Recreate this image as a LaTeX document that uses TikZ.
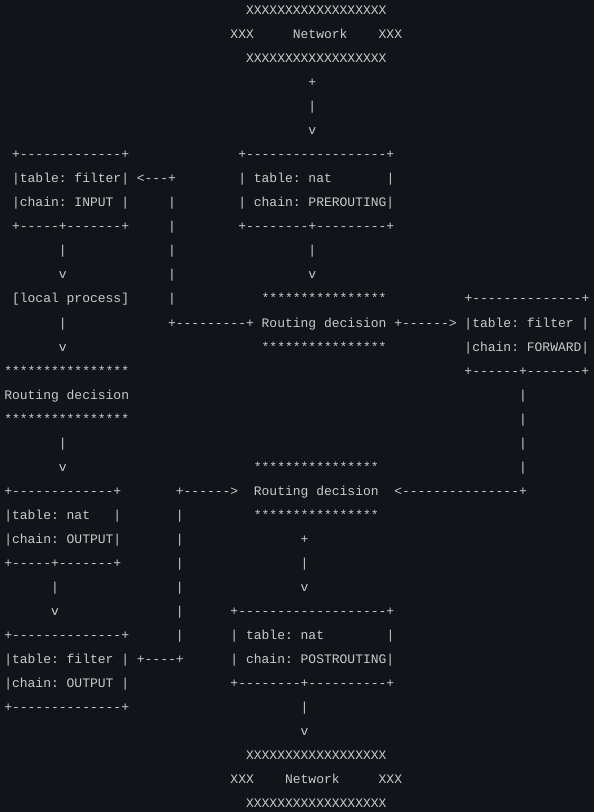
\documentclass[tikz,border=0pt]{standalone}
\usepackage{fontspec}
\setmonofont{Liberation Mono}[Ligatures=NoCommon]
\definecolor{termbg}{HTML}{131419}
\definecolor{termfg}{HTML}{C9CACC}
\newlength{\colw}
\setlength{\colw}{5.85pt}
\newcommand{\blanks}[1]{\hspace*{#1\colw}}

\begin{document}
\begin{tikzpicture}[x=5.85pt, y=-18pt, row/.style={anchor=base west, inner sep=0pt, outer sep=0pt, text=termfg, font=\ttfamily\fontsize{9.75pt}{18pt}\selectfont}]
    \useasboundingbox [fill=termbg] (-3.2pt,11.25pt) rectangle (442.3pt,-597.75pt);
    \node [row] (r1) at (31,0) {XXXXXXXXXXXXXXXXXX};
    \node [row] (r2) at (29,1) {XXX\blanks{5}Network\blanks{4}XXX};
    \node [row] (r3) at (31,2) {XXXXXXXXXXXXXXXXXX};
    \node [row] (r4) at (39,3) {+};
    \node [row] (r5) at (39,4) {|};
    \node [row] (r6) at (39,5) {v};
    \node [row] (r7) at (1,6) {+-------------+\blanks{14}+------------------+};
    \node [row] (r8) at (1,7) {|table: filter| <---+\blanks{8}| table: nat\blanks{7}|};
    \node [row] (r9) at (1,8) {|chain: INPUT |\blanks{5}|\blanks{8}| chain: PREROUTING|};
    \node [row] (r10) at (1,9) {+-----+-------+\blanks{5}|\blanks{8}+--------+---------+};
    \node [row] (r11) at (7,10) {|\blanks{13}|\blanks{17}|};
    \node [row] (r12) at (7,11) {v\blanks{13}|\blanks{17}v};
    \node [row] (r13) at (1,12) {[local process]\blanks{5}|\blanks{11}****************\blanks{10}+--------------+};
    \node [row] (r14) at (7,13) {|\blanks{13}+---------+ Routing decision +------> |table: filter |};
    \node [row] (r15) at (7,14) {v\blanks{25}****************\blanks{10}|chain: FORWARD|};
    \node [row] (r16) at (0,15) {****************\blanks{43}+------+-------+};
    \node [row] (r17) at (0,16) {Routing decision\blanks{50}|};
    \node [row] (r18) at (0,17) {****************\blanks{50}|};
    \node [row] (r19) at (7,18) {|\blanks{58}|};
    \node [row] (r20) at (7,19) {v\blanks{24}****************\blanks{18}|};
    \node [row] (r21) at (0,20) {+-------------+\blanks{7}+------>\blanks{2}Routing decision\blanks{2}<---------------+};
    \node [row] (r22) at (0,21) {|table: nat\blanks{3}|\blanks{7}|\blanks{9}****************};
    \node [row] (r23) at (0,22) {|chain: OUTPUT|\blanks{7}|\blanks{15}+};
    \node [row] (r24) at (0,23) {+-----+-------+\blanks{7}|\blanks{15}|};
    \node [row] (r25) at (6,24) {|\blanks{15}|\blanks{15}v};
    \node [row] (r26) at (6,25) {v\blanks{15}|\blanks{6}+-------------------+};
    \node [row] (r27) at (0,26) {+--------------+\blanks{6}|\blanks{6}| table: nat\blanks{8}|};
    \node [row] (r28) at (0,27) {|table: filter | +----+\blanks{6}| chain: POSTROUTING|};
    \node [row] (r29) at (0,28) {|chain: OUTPUT |\blanks{13}+--------+----------+};
    \node [row] (r30) at (0,29) {+--------------+\blanks{22}|};
    \node [row] (r31) at (38,30) {v};
    \node [row] (r32) at (31,31) {XXXXXXXXXXXXXXXXXX};
    \node [row] (r33) at (29,32) {XXX\blanks{4}Network\blanks{5}XXX};
    \node [row] (r34) at (31,33) {XXXXXXXXXXXXXXXXXX};
\end{tikzpicture}
\end{document}
